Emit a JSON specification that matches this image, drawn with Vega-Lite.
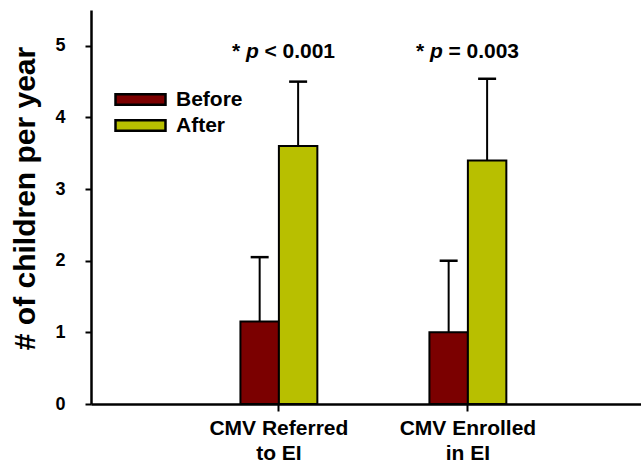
{
  "$schema": "https://vega.github.io/schema/vega-lite/v6.json",
  "width": 550,
  "height": 394,
  "autosize": {"type": "none"},
  "padding": {"left": 91, "top": 10, "right": 0, "bottom": 61},
  "background": "white",
  "config": {
    "view": {"stroke": null},
    "font": "Liberation Sans",
    "text": {"font": "Liberation Sans"}
  },
  "datasets": {
    "bars": [
      {"group": "CMV Referred to EI", "period": "Before", "mean": 1.15, "upper": 2.05},
      {"group": "CMV Referred to EI", "period": "After", "mean": 3.6, "upper": 4.5},
      {"group": "CMV Enrolled in EI", "period": "Before", "mean": 1.0, "upper": 2.0},
      {"group": "CMV Enrolled in EI", "period": "After", "mean": 3.4, "upper": 4.54}
    ],
    "notes": [
      {"group": "CMV Referred to EI", "star": "*", "p": "p", "stat": "< 0.001", "y": 4.92},
      {"group": "CMV Enrolled in EI", "star": "*", "p": "p", "stat": "= 0.003", "y": 4.92}
    ]
  },
  "layer": [
    {
      "data": {"name": "bars"},
      "mark": {"type": "bar", "stroke": "black", "strokeWidth": 2, "opacity": 1},
      "encoding": {
        "x": {
          "field": "group", "type": "nominal",
          "sort": ["CMV Referred to EI", "CMV Enrolled in EI"],
          "scale": {"paddingInner": 0.593, "paddingOuter": 0.7516, "align": 0.526},
          "axis": {
            "title": null, "labelAngle": 0,
            "domainColor": "black", "domainWidth": 2.5,
            "tickColor": "black", "tickWidth": 2, "tickSize": 7,
            "labelColor": "black", "labelFontSize": 21, "labelFontWeight": "bold",
            "labelLineHeight": 25, "labelPadding": 6,
            "labelExpr": "datum.value == 'CMV Referred to EI' ? ['CMV Referred', 'to EI'] : ['CMV Enrolled', 'in EI']"
          }
        },
        "xOffset": {
          "field": "period", "type": "nominal", "sort": ["Before", "After"],
          "scale": {"paddingInner": 0, "paddingOuter": 0}
        },
        "y": {
          "field": "mean", "type": "quantitative",
          "scale": {"domain": [0, 5.5], "nice": false, "zero": true},
          "axis": {
            "values": [0, 1, 2, 3, 4, 5], "format": "d", "grid": false,
            "title": "# of children per year",
            "titleFontSize": 30, "titleFontWeight": "bold", "titleColor": "black", "titlePadding": 14,
            "titleY": 188,
            "domainColor": "black", "domainWidth": 2.5,
            "tickColor": "black", "tickWidth": 2, "tickSize": 6,
            "labelColor": "black", "labelFontSize": 18, "labelFontWeight": "bold", "labelPadding": 20
          }
        },
        "color": {
          "field": "period", "type": "nominal",
          "scale": {"domain": ["Before", "After"], "range": ["#7b0000", "#b8bf00"]},
          "legend": {
            "orient": "none", "legendX": 38, "legendY": 78, "title": null, "padding": 0,
            "symbolType": "M-2.5,-0.52H2.5V0.52H-2.5Z", "symbolSize": 400,
            "symbolStrokeColor": "black", "symbolStrokeWidth": 2.5, "symbolOpacity": 1,
            "labelFontSize": 21, "labelFontWeight": "bold", "labelColor": "black",
            "labelOffset": 24, "rowPadding": 4
          }
        }
      }
    },
    {
      "mark": {"type": "rule", "color": "black", "strokeWidth": 2.5},
      "encoding": {"y": {"datum": 5.5, "type": "quantitative"}}
    },
    {
      "data": {"name": "bars"},
      "mark": {"type": "rule", "color": "black", "strokeWidth": 2},
      "encoding": {
        "x": {"field": "group", "type": "nominal", "sort": ["CMV Referred to EI", "CMV Enrolled in EI"]},
        "xOffset": {"field": "period", "type": "nominal", "sort": ["Before", "After"]},
        "y": {"field": "mean", "type": "quantitative"},
        "y2": {"field": "upper"}
      }
    },
    {
      "data": {"name": "bars"},
      "mark": {"type": "tick", "color": "black", "orient": "horizontal", "size": 18, "thickness": 2.5, "opacity": 1},
      "encoding": {
        "x": {"field": "group", "type": "nominal", "sort": ["CMV Referred to EI", "CMV Enrolled in EI"]},
        "xOffset": {"field": "period", "type": "nominal", "sort": ["Before", "After"]},
        "y": {"field": "upper", "type": "quantitative"}
      }
    },
    {
      "data": {"name": "notes"},
      "transform": [{"filter": "datum.group == 'CMV Referred to EI'"}],
      "layer": [
        {"mark": {"type": "text", "align": "left", "baseline": "middle", "fontSize": 21, "fontWeight": "bold", "color": "black", "dx": -47}, "encoding": {"text": {"field": "star"}}},
        {"mark": {"type": "text", "align": "left", "baseline": "middle", "fontSize": 21, "fontWeight": "bold", "fontStyle": "italic", "color": "black", "dx": -33}, "encoding": {"text": {"field": "p"}}},
        {"mark": {"type": "text", "align": "left", "baseline": "middle", "fontSize": 21, "fontWeight": "bold", "color": "black", "dx": -14.5}, "encoding": {"text": {"field": "stat"}}}
      ],
      "encoding": {
        "x": {"field": "group", "type": "nominal", "sort": ["CMV Referred to EI", "CMV Enrolled in EI"]},
        "y": {"field": "y", "type": "quantitative"}
      }
    },
    {
      "data": {"name": "notes"},
      "transform": [{"filter": "datum.group == 'CMV Enrolled in EI'"}],
      "layer": [
        {"mark": {"type": "text", "align": "left", "baseline": "middle", "fontSize": 21, "fontWeight": "bold", "color": "black", "dx": -52}, "encoding": {"text": {"field": "star"}}},
        {"mark": {"type": "text", "align": "left", "baseline": "middle", "fontSize": 21, "fontWeight": "bold", "fontStyle": "italic", "color": "black", "dx": -38}, "encoding": {"text": {"field": "p"}}},
        {"mark": {"type": "text", "align": "left", "baseline": "middle", "fontSize": 21, "fontWeight": "bold", "color": "black", "dx": -19.5}, "encoding": {"text": {"field": "stat"}}}
      ],
      "encoding": {
        "x": {"field": "group", "type": "nominal", "sort": ["CMV Referred to EI", "CMV Enrolled in EI"]},
        "y": {"field": "y", "type": "quantitative"}
      }
    }
  ]
}
